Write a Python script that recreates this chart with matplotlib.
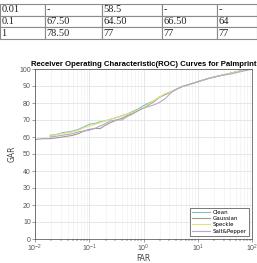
import matplotlib
matplotlib.use("Agg")
import matplotlib.pyplot as plt
import numpy as np

# table rows (top part of the page)
table_rows = [
    ["0.01", "-", "58.5", "-", "-"],
    ["0.1", "67.50", "64.50", "66.50", "64"],
    ["1", "78.50", "77", "77", "77"],
]

far = [0.01, 0.014, 0.019, 0.025, 0.032, 0.04, 0.05, 0.063, 0.08, 0.1,
       0.126, 0.16, 0.2, 0.25, 0.32, 0.4, 0.5, 0.63, 0.8, 1,
       1.26, 1.6, 2, 2.5, 3.2, 4, 5, 6.3, 8, 10,
       16, 25, 40, 63, 100]
nan = np.nan
gar_clean = [nan, nan, 61, 61.5, 62.5, 63, 63.5, 64.5, 66, 67.5,
             68, 69, 69.5, 70.5, 71.5, 72.5, 73.5, 75, 76.5, 78.5,
             80, 81.5, 83.5, 85, 86.5, 88, 89.5, 90.5, 91.5, 92.5,
             94.5, 96, 97.5, 99, 100]
gar_gauss = [58.5, 59, 59, 59.5, 60, 60.5, 61, 62, 63.5, 64.5,
             65, 65, 67, 68.5, 70, 71, 72.5, 74, 75.5, 77,
             79, 81, 83.5, 85, 86.5, 88, 89.5, 90.5, 91.5, 92.5,
             94.5, 96, 97.5, 99, 100]
gar_speckle = [nan, nan, 60.5, 61.5, 62, 62.5, 63, 64, 65.5, 66.5,
               67.5, 68.5, 69.5, 70.5, 71.5, 72.5, 73.5, 74.5, 76, 77,
               79.5, 81.5, 83.5, 85.5, 86.5, 88, 89.5, 90.5, 91.5, 92.5,
               94.5, 96, 97.5, 99, 100]
gar_sp = [nan, nan, 60, 60.5, 61, 61.5, 62, 63, 63.5, 64,
          65, 66.5, 68, 69.5, 70, 70, 72, 73.5, 75.5, 77,
          78, 79, 80.5, 82.5, 86, 88, 89.5, 90.5, 91.5, 92.5,
          94.5, 96, 97, 98.5, 100]

labels = ["Clean", "Gaussian", "Speckle", "Salt&Pepper"]
colors = ["#7cc6bd", "#a8988a", "#e2e07a", "#b4aacb"]

fig = plt.figure(figsize=(2.57, 2.63), dpi=100)

# table
tax = fig.add_axes([0, 1 - 39 / 263, 1, 35 / 263])
tax.axis("off")
widths = np.array([45, 57, 60, 55, 40]) / 257
tbl = tax.table(cellText=table_rows, colWidths=widths, cellLoc="left",
                bbox=[0, 0, 1, 1])
tbl.auto_set_font_size(False)
for cell in tbl.get_celld().values():
    cell.set_edgecolor("#8a8a8a")
    cell.set_linewidth(0.8)
    cell.PAD = 0.03
    cell.get_text().set_fontsize(7.5)
    cell.get_text().set_fontfamily("Liberation Serif")
    cell.get_text().set_color("#222222")

# ROC plot
ax = fig.add_axes([35 / 257, 1 - 239 / 263, 217 / 257, 170 / 263])
for y, lab, c in zip([gar_clean, gar_gauss, gar_speckle, gar_sp], labels, colors):
    ax.plot(far, y, color=c, lw=0.8, label=lab)
ax.set_xscale("log")
ax.set_xlim(0.01, 100)
ax.set_ylim(0, 100)
ax.set_yticks(range(0, 101, 10))
ax.grid(True, which="major", color="#dddddd", lw=0.5)
ax.grid(True, which="minor", axis="x", color="#eeeeee", lw=0.4)
ax.tick_params(labelsize=5, colors="#555555", length=2, width=0.4, pad=1)
ax.tick_params(which="minor", length=1.2, width=0.3)
for s in ax.spines.values():
    s.set_color("#444444")
    s.set_linewidth(0.5)
ax.set_title("Receiver Operating Characteristic(ROC) Curves for Palmprint",
             fontsize=5.6, fontweight="bold", family="Liberation Sans", pad=2)
ax.set_xlabel("FAR", fontsize=5.5, color="#444444", labelpad=-0.5)
ax.set_ylabel("GAR", fontsize=5.5, color="#444444", labelpad=2)
for t in ax.get_xticklabels() + ax.get_yticklabels():
    t.set_family("Liberation Sans")
leg = ax.legend(loc="lower right", fontsize=4, handlelength=3.2,
                borderaxespad=0.6, fancybox=False, framealpha=1,
                edgecolor="#444444", labelspacing=0.25, borderpad=0.35,
                handletextpad=0.5)
leg.get_frame().set_linewidth(0.5)

fig.savefig("out.png", dpi=100)
